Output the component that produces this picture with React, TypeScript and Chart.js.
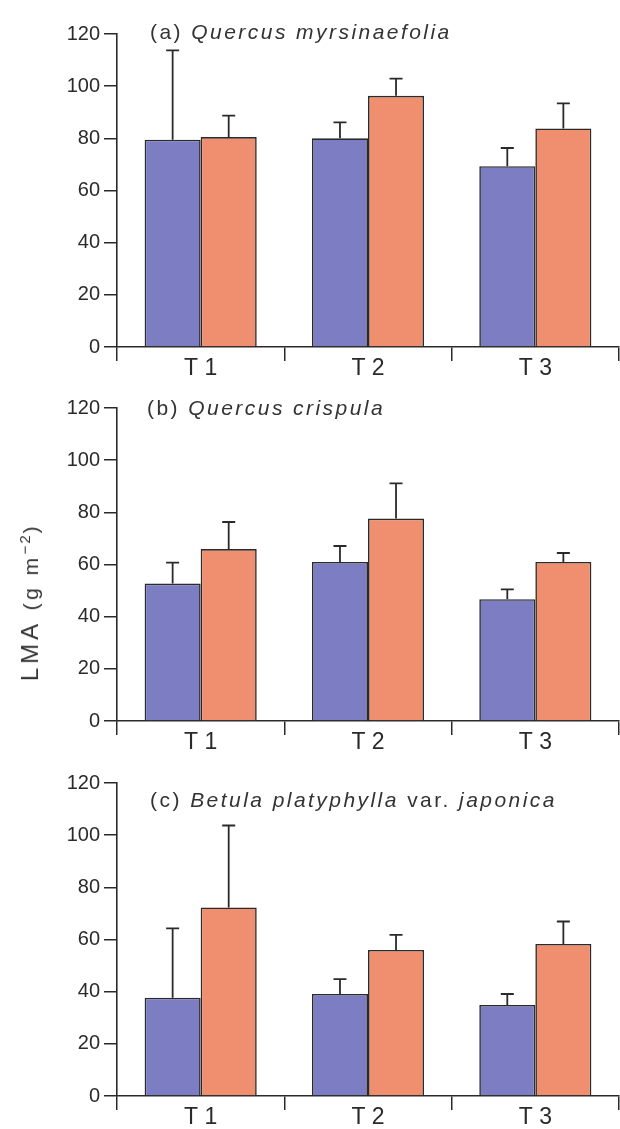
import React, { useEffect, useRef } from "react";
import { Chart, registerables } from "chart.js";

Chart.register(...registerables);

// ---- data ----
const categories = ["T 1", "T 2", "T 3"];
const yTickMin = 0;
const yTickMax = 120;
const yTickStep = 20;

// (a) Quercus myrsinaefolia
const aBlue = [79.5, 80, 69.3];
const aBlueSD = [34.2, 6.1, 7.0];
const aOrange = [80.5, 96.3, 83.8];
const aOrangeSD = [8.2, 6.6, 9.6];

// (b) Quercus crispula
const bBlue = [52.7, 61, 46.7];
const bBlueSD = [8.0, 6.1, 3.8];
const bOrange = [65.9, 77.6, 61];
const bOrangeSD = [10.4, 13.5, 3.4];

// (c) Betula platyphylla var. japonica
const cBlue = [37.7, 39.1, 34.9];
const cBlueSD = [26.6, 5.7, 4.2];
const cOrange = [72.3, 56, 58.3];
const cOrangeSD = [31.4, 5.8, 8.6];

const FONT = '"Liberation Sans", Arial, Helvetica, sans-serif';
const INK = "#2a2a2a";
const BLUE = "#7d7dc4";
const ORANGE = "#ef8f6f";

const errorBarPlugin = {
  id: "errorBars",
  afterDatasetsDraw(chart: any) {
    const ctx = chart.ctx;
    const yScale = chart.scales.y;
    ctx.save();
    ctx.strokeStyle = INK;
    ctx.lineWidth = 1.8;
    chart.data.datasets.forEach((ds: any, i: number) => {
      const meta = chart.getDatasetMeta(i);
      meta.data.forEach((bar: any, j: number) => {
        const top = yScale.getPixelForValue(ds.data[j] + ds.errors[j]);
        ctx.beginPath();
        ctx.moveTo(bar.x, bar.y);
        ctx.lineTo(bar.x, top);
        ctx.moveTo(bar.x - 6.5, top);
        ctx.lineTo(bar.x + 6.5, top);
        ctx.stroke();
      });
    });
    ctx.restore();
  },
};

function Panel(props: {
  top: number;
  blue: number[];
  blueSD: number[];
  orange: number[];
  orangeSD: number[];
  titleTop: number;
  titleLeft: number;
  label: string;
  species: string;
  extra?: React.ReactNode;
}) {
  const ref = useRef<HTMLCanvasElement | null>(null);
  useEffect(() => {
    if (!ref.current) return;
    const chart = new Chart(ref.current, {
      type: "bar",
      data: {
        labels: categories,
        datasets: [
          {
            data: props.blue,
            errors: props.blueSD,
            backgroundColor: BLUE,
            borderColor: INK,
            borderWidth: 1.6,
          } as any,
          {
            data: props.orange,
            errors: props.orangeSD,
            backgroundColor: ORANGE,
            borderColor: INK,
            borderWidth: 1.6,
          } as any,
        ],
      },
      options: {
        animation: false,
        responsive: false,
        devicePixelRatio: 1,
        categoryPercentage: 0.67,
        barPercentage: 1.0,
        layout: { padding: { top: 33, right: 1, left: 0, bottom: 0 } },
        plugins: {
          legend: { display: false },
          tooltip: { enabled: false },
        },
        scales: {
          x: {
            type: "category",
            offset: true,
            afterFit: (s: any) => {
              s.height = 29;
            },
            grid: {
              offset: true,
              drawOnChartArea: false,
              drawTicks: true,
              tickLength: 14,
              color: INK,
              lineWidth: 1.5,
            },
            border: { display: true, color: INK, width: 1.6 },
            ticks: {
              color: INK,
              padding: -6,
              font: { family: FONT, size: 23 },
            },
          },
          y: {
            min: yTickMin,
            max: yTickMax,
            afterFit: (s: any) => {
              s.width = 117;
            },
            grid: {
              drawOnChartArea: false,
              drawTicks: true,
              tickLength: 13,
              color: INK,
              lineWidth: 1.5,
            },
            border: { display: true, color: INK, width: 1.6 },
            ticks: {
              stepSize: yTickStep,
              color: INK,
              padding: 4,
              font: { family: FONT, size: 20 },
            },
          },
        },
      } as any,
      plugins: [errorBarPlugin],
    });
    return () => chart.destroy();
  }, []);

  return (
    <div style={{ position: "absolute", left: 0, top: props.top, width: 620, height: 375 }}>
      <canvas ref={ref} width={620} height={375} style={{ display: "block" }} />
      <div
        style={{
          position: "absolute",
          left: props.titleLeft,
          top: props.titleTop - 12,
          lineHeight: "24px",
          fontFamily: FONT,
          fontSize: 21,
          letterSpacing: "2.45px",
          color: "#333",
          whiteSpace: "nowrap",
        }}
      >
        {props.label} <i>{props.species}</i>
        {props.extra}
      </div>
    </div>
  );
}

export default function App() {
  return (
    <div style={{ position: "absolute", left: 0, top: 0, width: 620, height: 1129, background: "#fff" }}>
      <Panel
        top={1}
        blue={aBlue}
        blueSD={aBlueSD}
        orange={aOrange}
        orangeSD={aOrangeSD}
        titleTop={31}
        titleLeft={150}
        label="(a)"
        species="Quercus myrsinaefolia"
      />
      <Panel
        top={375}
        blue={bBlue}
        blueSD={bBlueSD}
        orange={bOrange}
        orangeSD={bOrangeSD}
        titleTop={33}
        titleLeft={147}
        label="(b)"
        species="Quercus crispula"
      />
      <Panel
        top={750}
        blue={cBlue}
        blueSD={cBlueSD}
        orange={cOrange}
        orangeSD={cOrangeSD}
        titleTop={50}
        titleLeft={150}
        label="(c)"
        species="Betula platyphylla"
        extra={
          <>
            {" var. "}
            <i>japonica</i>
          </>
        }
      />
      <div
        style={{
          position: "absolute",
          left: 29,
          top: 602,
          transform: "translate(-50%, -50%) rotate(-90deg)",
          whiteSpace: "nowrap",
          fontFamily: FONT,
          color: "#333",
          lineHeight: "26px",
        }}
      >
        <span style={{ fontSize: 24, letterSpacing: "4px" }}>LMA</span>
        <span style={{ fontSize: 21, letterSpacing: "3.5px" }}>
          {" (g m"}
          <sup style={{ fontSize: 15, letterSpacing: "2px" }}>−2</sup>
          {")"}
        </span>
      </div>
    </div>
  );
}
